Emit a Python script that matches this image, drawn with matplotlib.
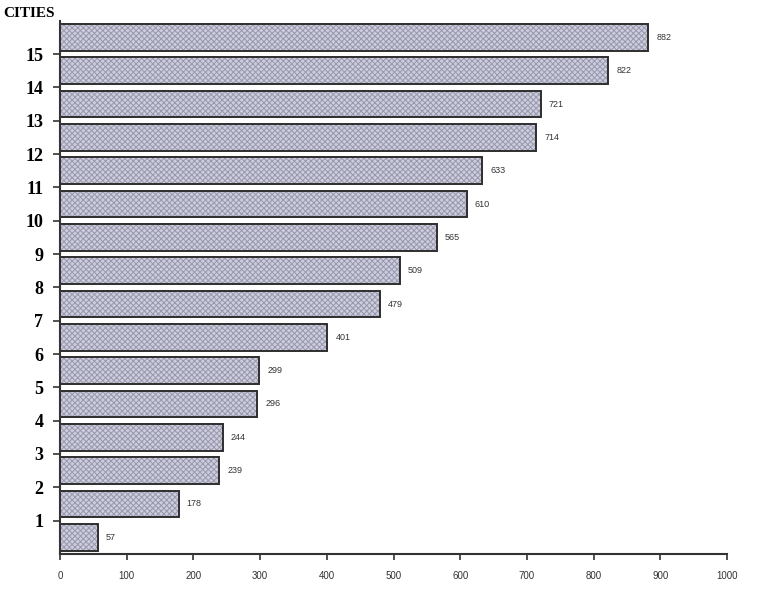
import matplotlib.pyplot as plt
import numpy as np

values = [57, 178, 239, 244, 296, 299, 401, 479, 509, 565, 610, 633, 714, 721, 822, 882]
city_labels = [str(i) for i in range(1, 16)]
x_ticks = [0, 100, 200, 300, 400, 500, 600, 700, 800, 900, 1000]

plt.rcParams['hatch.linewidth'] = 0.7

fig = plt.figure(figsize=(7.77, 5.98), dpi=100)
ax = fig.add_axes([0.0772, 0.0736, 0.8585, 0.8918])

pos = np.arange(len(values))
# fill with fine pattern, then outline on top
ax.barh(pos, values, height=0.8, color='#cdcddf', edgecolor='#9898ac',
        hatch='xxxxxx', linewidth=0)
ax.barh(pos, values, height=0.8, fill=False, edgecolor='#2e2e2e', linewidth=1.4)

for p, v in zip(pos, values):
    ax.text(v + 12, p, str(v), va='center', ha='left', fontsize=6.5,
            family='Liberation Sans', color='#333333')

ax.set_xlim(0, 1000)
ax.set_ylim(-0.5, len(values) - 0.5)
ax.set_xticks(x_ticks)
ax.set_xticklabels([str(t) for t in x_ticks], fontsize=7, family='Liberation Sans',
                   color='#333333')
ax.set_yticks(np.arange(len(city_labels)) + 0.5)
ax.set_yticklabels(city_labels, fontsize=13, fontweight='bold', family='Liberation Serif')
ax.tick_params(axis='y', length=5, width=1.2, color='#333333', pad=7)
ax.tick_params(axis='x', length=4, width=1.2, color='#333333', pad=8)

for s in ['top', 'right']:
    ax.spines[s].set_visible(False)
for s in ['left', 'bottom']:
    ax.spines[s].set_color('#333333')
    ax.spines[s].set_linewidth(1.5)

fig.text(0.004, 0.978, 'CITIES', fontsize=11, fontweight='bold',
         family='Liberation Serif', va='center', ha='left')

fig.savefig('out.png', dpi=100)
